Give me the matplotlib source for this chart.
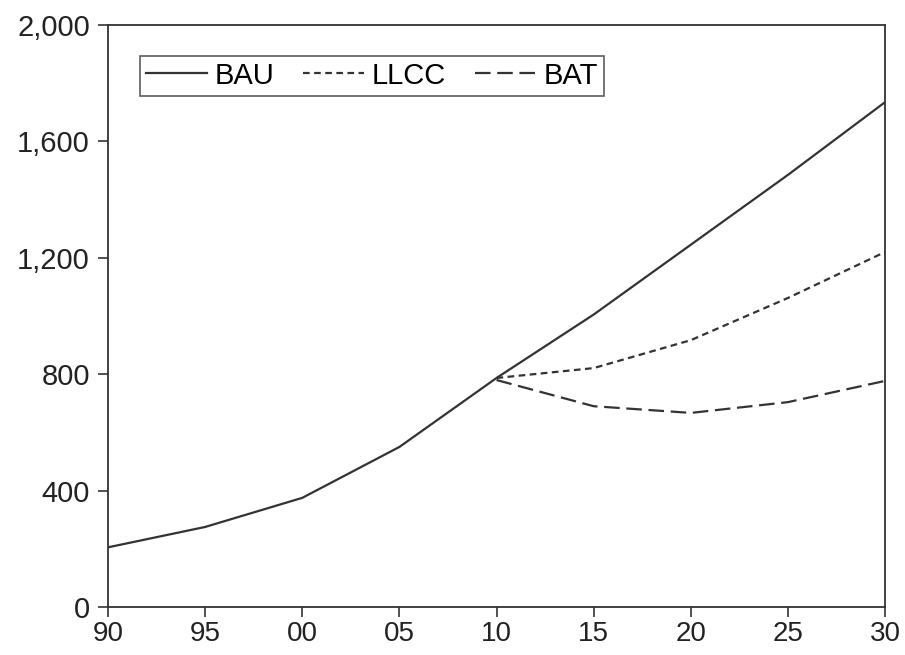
import matplotlib
matplotlib.use("Agg")
import matplotlib.pyplot as plt

plt.rcParams['font.family'] = ['Liberation Sans', 'DejaVu Sans']

years = [1990, 1995, 2000, 2005, 2010, 2015, 2020, 2025, 2030]
bau = [205, 275, 375, 550, 787, 1005, 1245, 1485, 1735]

years_proj = [2010, 2015, 2020, 2025, 2030]
llcc = [787, 821, 917, 1062, 1220]
bat = [780, 690, 667, 704, 777]

x_ticks = [1990, 1995, 2000, 2005, 2010, 2015, 2020, 2025, 2030]
x_labels = ["90", "95", "00", "05", "10", "15", "20", "25", "30"]
y_ticks = [0, 400, 800, 1200, 1600, 2000]
y_labels = ["0", "400", "800", "1,200", "1,600", "2,000"]

col = "#333333"

fig = plt.figure(figsize=(9.05, 6.55), dpi=100)
ax = fig.add_axes([0.1193, 0.0733, 0.8587, 0.8885])

ax.plot(years, bau, color=col, lw=1.6, label="BAU")
ax.plot(years_proj, llcc, color=col, lw=1.6, dashes=(3, 2), label="LLCC")
ax.plot(years_proj, bat, color=col, lw=1.6, dashes=(7, 3), label="BAT")

ax.set_xlim(1990, 2030)
ax.set_ylim(0, 2000)
ax.set_xticks(x_ticks)
ax.set_xticklabels(x_labels, fontsize=20)
ax.set_yticks(y_ticks)
ax.set_yticklabels(y_labels, fontsize=21)
ax.tick_params(direction='out', length=7, width=1.2, colors=col,
               labelcolor="#222222")
ax.tick_params(axis='y', pad=6)
ax.tick_params(axis='x', pad=3)
for s in ax.spines.values():
    s.set_color(col)
    s.set_linewidth(1.3)

leg = ax.legend(loc='upper left', bbox_to_anchor=(0.041, 0.947), ncol=3,
                fontsize=21, frameon=True, fancybox=False, handlelength=2.1,
                handletextpad=0.25, columnspacing=1.0, borderpad=0.2,
                borderaxespad=0)
leg.get_frame().set_edgecolor(col)
leg.get_frame().set_linewidth(1.2)

fig.savefig("out.png", dpi=100)
